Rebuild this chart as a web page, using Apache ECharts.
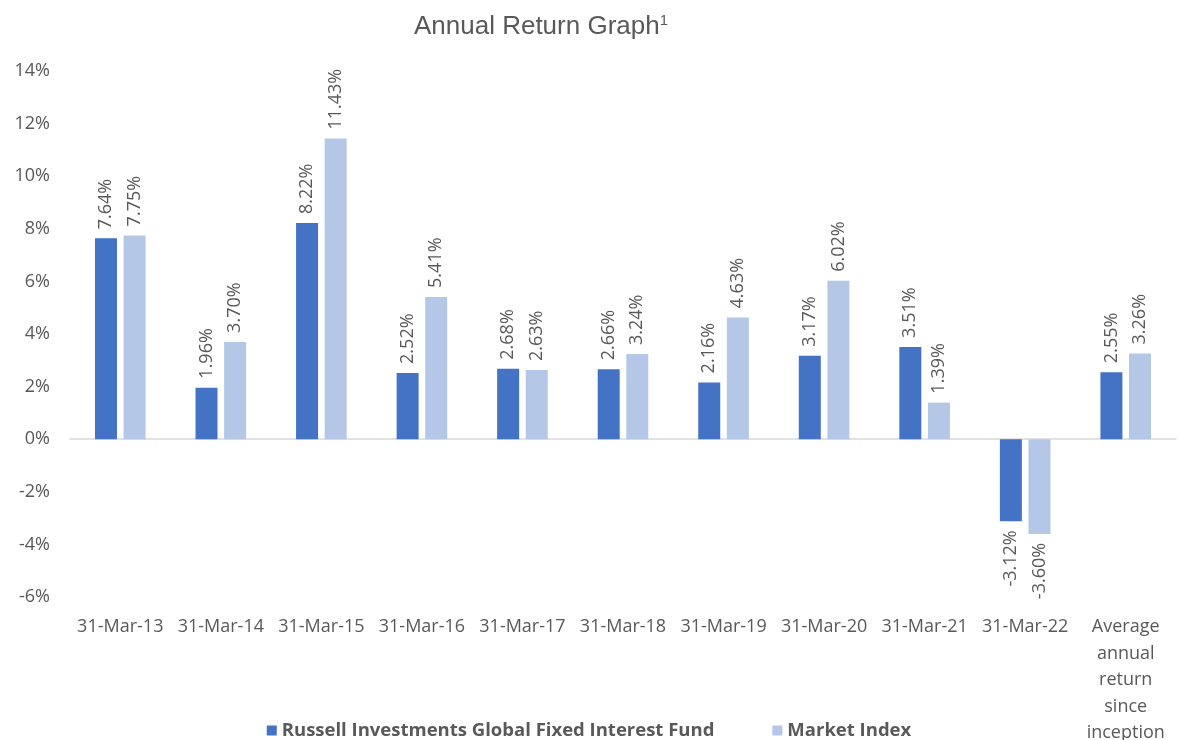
<!DOCTYPE html>
<html>
<head>
<meta charset="utf-8">
<script src="https://cdn.jsdelivr.net/npm/echarts@6/dist/echarts.min.js"></script>
<style>
  html, body { margin: 0; padding: 0; background: #fff; }
  #chart { width: 1178px; height: 740px; }
</style>
</head>
<body>
<div id="chart"></div>
<script>
// 数据
const categories = ['31-Mar-13', '31-Mar-14', '31-Mar-15', '31-Mar-16', '31-Mar-17', '31-Mar-18',
    '31-Mar-19', '31-Mar-20', '31-Mar-21', '31-Mar-22', 'Average\nannual\nreturn\nsince\ninception'];
const fundValues = [7.64, 1.96, 8.22, 2.52, 2.68, 2.66, 2.16, 3.17, 3.51, -3.12, 2.55];
const indexValues = [7.75, 3.70, 11.43, 5.41, 2.63, 3.24, 4.63, 6.02, 1.39, -3.60, 3.26];
const seriesNames = ['Russell Investments Global Fixed Interest Fund', 'Market Index'];

const textColor = '#595959';
const font = 'Open Sans';

const chart = echarts.init(document.getElementById('chart'));

// 正值标签在柱顶，负值标签在柱底
function withLabels(values) {
    return values.map(v => ({
        value: v,
        label: v < 0
            ? { position: 'bottom', align: 'right' }
            : { position: 'top', align: 'left' }
    }));
}

function barSeries(name, values, color) {
    return {
        name: name,
        type: 'bar',
        data: withLabels(values),
        barWidth: 22,
        barGap: '30%',
        itemStyle: { color: color },
        label: {
            show: true,
            rotate: 90,
            distance: 9,
            verticalAlign: 'middle',
            color: textColor,
            fontFamily: font,
            fontSize: 18,
            formatter: p => p.value.toFixed(2) + '%'
        }
    };
}

chart.setOption({
    animation: false,
    title: {
        text: '{t|Annual Return Graph}{s|1}',
        left: 536,
        top: 8,
        textAlign: 'center',
        textStyle: {
            fontWeight: 'normal',
            rich: {
                t: { fontFamily: 'Liberation Sans', fontSize: 26, fontWeight: 'normal', color: textColor },
                s: { fontFamily: 'Liberation Sans', fontSize: 15, fontWeight: 'normal', color: textColor, verticalAlign: 'top', padding: [0, 0, 13, 0] }
            }
        }
    },
    legend: {
        bottom: -5,
        left: 'center',
        itemWidth: 10,
        itemHeight: 10,
        itemGap: 58,
        icon: 'rect',
        textStyle: { color: textColor, fontFamily: font, fontSize: 18.5, fontWeight: 'bold' },
        data: seriesNames
    },
    grid: { left: 70, right: 2, top: 71, bottom: 143, outerBoundsMode: 'none', containLabel: false },
    xAxis: {
        type: 'category',
        data: categories,
        axisLine: { onZero: true, lineStyle: { color: '#D9D9D9', width: 1.5 } },
        axisTick: { show: false },
        axisLabel: {
            interval: 0,
            color: textColor,
            fontFamily: font,
            fontSize: 18,
            lineHeight: 26.5,
            margin: 17
        }
    },
    yAxis: {
        type: 'value',
        min: -6,
        max: 14,
        interval: 2,
        axisLine: { show: false },
        axisTick: { show: false },
        splitLine: { show: false },
        axisLabel: {
            formatter: '{value}%',
            color: textColor,
            fontFamily: font,
            fontSize: 18,
            margin: 20
        }
    },
    series: [
        barSeries(seriesNames[0], fundValues, '#4472C4'),
        barSeries(seriesNames[1], indexValues, '#B4C7E7')
    ]
});
</script>
</body>
</html>
